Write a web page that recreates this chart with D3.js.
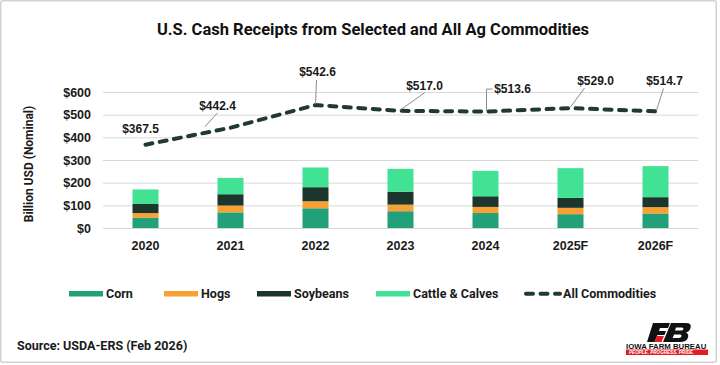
<!DOCTYPE html>
<html>
<head>
<meta charset="utf-8">
<script src="https://cdn.jsdelivr.net/npm/d3@7"></script>
<style>
  body { margin: 0; background: #fff; }
  svg { display: block; }
</style>
</head>
<body>
<svg></svg>
<script>
// values (billion USD, nominal)
let years = ['2020', '2021', '2022', '2023', '2024', '2025F', '2026F']
let corn = [46, 69, 87, 74, 66, 61, 64]
let hogs = [20, 30, 31, 29, 27, 28, 28]
let soybeans = [40, 50, 62, 57, 47, 44, 44]
let cattle = [64, 72, 87, 101, 112, 131, 137]
let allCommodities = [367.5, 442.4, 542.6, 517.0, 513.6, 529.0, 514.7]
let yTicks = [0, 100, 200, 300, 400, 500, 600]
let seriesNames = ['Corn', 'Hogs', 'Soybeans', 'Cattle & Calves']

let width = 720
let height = 365
let plotLeft = 103
let plotRight = 698
let plotTop = 92
let plotBottom = 228

let colors = {
    'Corn': '#21a07a',
    'Hogs': '#f7a034',
    'Soybeans': '#1d362d',
    'Cattle & Calves': '#41e293'
}
let lineColor = '#1f3b31'
let numFont = "'Liberation Sans', Arial, sans-serif"
let textFont = "Roboto, 'Noto Sans', sans-serif"

let svg = d3.select('svg')
    .attr('width', width)
    .attr('height', height)

// border of the picture
svg.append('rect')
    .attr('x', 0.75).attr('y', 0.75)
    .attr('width', 715.5).attr('height', 361.5)
    .attr('rx', 2)
    .attr('fill', '#fff')
    .attr('stroke', '#d2d2d2')
    .attr('stroke-width', 1.5)

let table = years.map((yr, i) => ({
    year: yr,
    'Corn': corn[i],
    'Hogs': hogs[i],
    'Soybeans': soybeans[i],
    'Cattle & Calves': cattle[i],
    total: allCommodities[i]
}))

let xScale = d3.scaleBand()
    .domain(years)
    .range([plotLeft, plotRight])
    .paddingInner(0.694)
    .paddingOuter(0.347)

let yScale = d3.scaleLinear()
    .domain([0, 600])
    .range([plotBottom, plotTop])

// title
svg.append('text')
    .attr('x', 373)
    .attr('y', 35)
    .attr('text-anchor', 'middle')
    .style('font-family', textFont)
    .style('font-size', '16.5px')
    .style('font-weight', 700)
    .attr('fill', '#111')
    .text('U.S. Cash Receipts from Selected and All Ag Commodities')

// y axis with grid
let yAxis = d3.axisLeft(yScale)
    .tickValues(yTicks)
    .tickFormat(d => '$' + d)
    .tickSize(-(plotRight - plotLeft))
    .tickPadding(12)

let yG = svg.append('g')
    .attr('transform', 'translate(' + plotLeft + ',0)')
    .call(yAxis)
yG.select('.domain').remove()
yG.selectAll('line').attr('stroke', '#d9d9d9').attr('stroke-width', 1)
yG.selectAll('text')
    .style('font-family', numFont)
    .style('font-size', '12.5px')
    .style('font-weight', 700)
    .attr('fill', '#1a1a1a')

svg.append('text')
    .attr('transform', 'translate(33,164) rotate(-90)')
    .attr('text-anchor', 'middle')
    .style('font-family', textFont)
    .style('font-size', '12px')
    .style('font-weight', 700)
    .attr('fill', '#1a1a1a')
    .text('Billion USD (Nominal)')

// x axis
let xAxis = d3.axisBottom(xScale).tickSize(0).tickPadding(13)
let xG = svg.append('g')
    .attr('transform', 'translate(0,' + plotBottom + ')')
    .call(xAxis)
xG.select('.domain').remove()
xG.selectAll('text')
    .style('font-family', numFont)
    .style('font-size', '12.5px')
    .style('font-weight', 700)
    .attr('fill', '#1a1a1a')

// stacked bars
let stacked = d3.stack().keys(seriesNames)(table)

svg.append('g')
    .selectAll('g')
    .data(stacked)
    .enter()
    .append('g')
    .attr('fill', d => colors[d.key])
    .selectAll('rect')
    .data(d => d)
    .enter()
    .append('rect')
    .attr('x', d => xScale(d.data.year))
    .attr('y', d => yScale(d[1]))
    .attr('width', xScale.bandwidth())
    .attr('height', d => yScale(d[0]) - yScale(d[1]))

// all commodities line
let cx = d => xScale(d.year) + xScale.bandwidth() / 2
let line = d3.line()
    .x(d => cx(d))
    .y(d => yScale(d.total))

svg.append('path')
    .datum(table)
    .attr('d', line)
    .attr('fill', 'none')
    .attr('stroke', lineColor)
    .attr('stroke-width', 4)
    .attr('stroke-linecap', 'round')
    .attr('stroke-dasharray', '7 7.5')

// data labels: offset of label centre from the point, and leader line ends
let labelOffsets = [
    { dx: -5, dy: -16, lead: null },
    { dx: -13, dy: -22, lead: [[0, 7], [-12.5, 21]] },
    { dx: 2, dy: -33, lead: [[-1, 8], [-2, 32]] },
    { dx: 24, dy: -25, lead: [[0, 7], [-24, 24]] },
    { dx: 27, dy: -22.5, lead: [[-20, 0], [-26, 0], [-26, 22]] },
    { dx: 25, dy: -27, lead: [[-11, 7], [-25, 26]] },
    { dx: 9, dy: -31, lead: [[-1, 8], [-8, 30]] }
]

let labels = svg.append('g')
table.forEach((d, i) => {
    let px = cx(d)
    let py = yScale(d.total)
    let o = labelOffsets[i]
    let lx = px + o.dx
    let ly = py + o.dy
    if (o.lead) {
        labels.append('path')
            .attr('d', d3.line()(o.lead.map(p => [lx + p[0], ly + p[1]])))
            .attr('fill', 'none')
            .attr('stroke', '#8c8c8c')
            .attr('stroke-width', 1)
    }
    labels.append('text')
        .attr('x', lx)
        .attr('y', ly)
        .attr('dy', '0.36em')
        .attr('text-anchor', 'middle')
        .style('font-family', numFont)
        .style('font-size', '12px')
        .style('font-weight', 700)
        .attr('fill', '#1a1a1a')
        .text('$' + d3.format('.1f')(d.total))
})

// legend
let legendItems = [
    { name: 'Corn', x: 69 },
    { name: 'Hogs', x: 164 },
    { name: 'Soybeans', x: 257 },
    { name: 'Cattle & Calves', x: 376 }
]
let legend = svg.append('g')
legendItems.forEach(item => {
    legend.append('rect')
        .attr('x', item.x)
        .attr('y', 291)
        .attr('width', 34)
        .attr('height', 5.5)
        .attr('fill', colors[item.name])
    legend.append('text')
        .attr('x', item.x + 37)
        .attr('y', 298)
        .style('font-family', textFont)
        .style('font-size', '12.5px')
        .style('font-weight', 700)
        .attr('fill', '#1a1a1a')
        .text(item.name)
})
legend.append('line')
    .attr('x1', 526).attr('x2', 560)
    .attr('y1', 293.8).attr('y2', 293.8)
    .attr('stroke', lineColor)
    .attr('stroke-width', 4)
    .attr('stroke-linecap', 'round')
    .attr('stroke-dasharray', '7 7.5')
legend.append('text')
    .attr('x', 563)
    .attr('y', 298)
    .style('font-family', textFont)
    .style('font-size', '12.5px')
    .style('font-weight', 700)
    .attr('fill', '#1a1a1a')
    .text('All Commodities')

// source
svg.append('text')
    .attr('x', 17)
    .attr('y', 349.5)
    .style('font-family', textFont)
    .style('font-size', '12.5px')
    .style('font-weight', 700)
    .attr('fill', '#1a1a1a')
    .text('Source: USDA-ERS (Feb 2026)')

// Iowa Farm Bureau logo, drawn roughly
let logo = svg.append('g')
logo.append('path')
    .attr('d', 'M653,323 L670,323 L668,328 L660,328 L659,331 L666,331 L664.5,335 L657.5,335 L654.5,342 L647,342 Z')
    .attr('fill', '#111')
logo.append('path')
    .attr('d', 'M657,336 L664,336 L661.5,342 L654.5,342 Z')
    .attr('fill', '#e31b23')
logo.append('path')
    .attr('d', 'M671,323 L686,323 Q692,323 690.5,328 Q689.5,331.5 686,332.5 Q689,334 688,337.5 Q686.5,342 680,342 L663,342 Z M676,327.5 L675,330.5 L681,330.5 Q683,330.5 683.4,329 Q683.8,327.5 682,327.5 Z M674,334.5 L672.7,338 L679,338 Q681,338 681.5,336.3 Q682,334.5 680,334.5 Z')
    .attr('fill', '#111')
    .attr('fill-rule', 'evenodd')
logo.append('text')
    .attr('x', 626)
    .attr('y', 348.5)
    .style('font-family', numFont)
    .style('font-size', '7.8px')
    .style('font-weight', 700)
    .attr('fill', '#111')
    .text('IOWA FARM BUREAU')
logo.append('rect')
    .attr('x', 626).attr('y', 349.5)
    .attr('width', 82).attr('height', 5.5)
    .attr('fill', '#e31b23')
logo.append('text')
    .attr('x', 629)
    .attr('y', 353.9)
    .style('font-family', numFont)
    .style('font-size', '4.6px')
    .style('font-weight', 700)
    .style('font-style', 'italic')
    .attr('fill', '#fff')
    .text('PEOPLE. PROGRESS. PRIDE.')
</script>
</body>
</html>
